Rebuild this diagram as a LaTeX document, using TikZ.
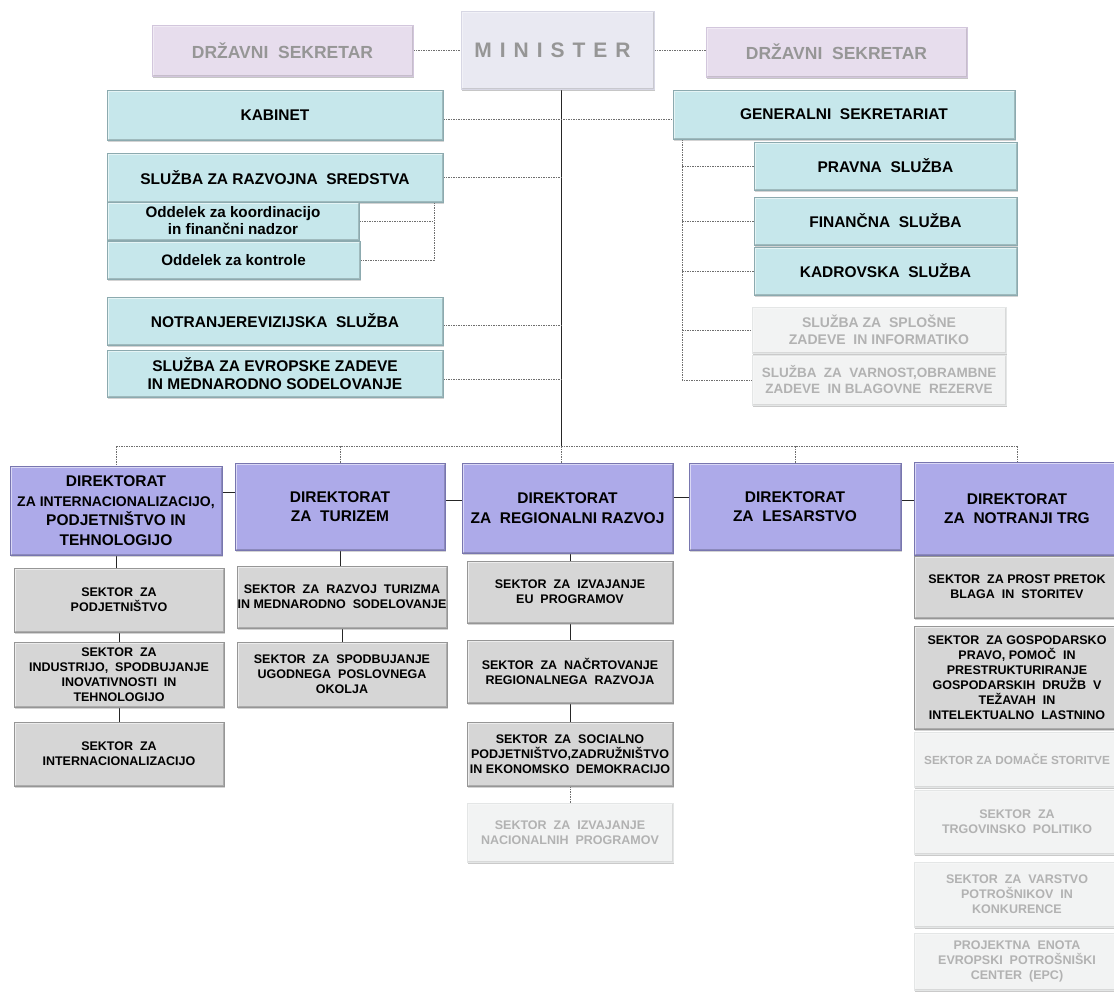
\documentclass[tikz,border=0pt]{standalone}
\usepackage{fontspec}
\setmainfont{Liberation Sans}
\usetikzlibrary{shadows}
\definecolor{cblue}{RGB}{198,231,235}
\definecolor{cblueD}{RGB}{140,170,175}
\definecolor{cpur}{RGB}{173,170,233}
\definecolor{cpurD}{RGB}{120,118,175}
\definecolor{cgray}{RGB}{214,214,214}
\definecolor{cgrayD}{RGB}{150,150,150}
\definecolor{cfade}{RGB}{242,243,243}
\definecolor{cfadeD}{RGB}{228,230,230}
\definecolor{cfadeT}{RGB}{178,178,178}
\definecolor{cds}{RGB}{231,221,237}
\definecolor{cdsD}{RGB}{210,198,220}
\definecolor{cmin}{RGB}{233,233,242}
\definecolor{cminD}{RGB}{215,215,228}
\definecolor{ctxtg}{RGB}{150,150,150}
\definecolor{lineg}{RGB}{110,110,110}
\pgfdeclarelayer{bg}
\pgfsetlayers{bg,main}
\begin{document}
\begin{tikzpicture}[x=1pt,y=-1pt,
  sz/.style 2 args={minimum width=#1pt, minimum height=#2pt},
  bevel/.style={path picture={
    \draw[white, opacity=#1, line width=3pt]
      (path picture bounding box.south west) -- (path picture bounding box.north west)
      -- (path picture bounding box.north east);
    \draw[black, opacity=#1*0.35, line width=3pt]
      (path picture bounding box.north east) -- (path picture bounding box.south east)
      -- (path picture bounding box.south west);}},
  base/.style={rectangle, inner sep=0pt, align=center, text=black, bevel=0.55,
    drop shadow={opacity=0.35, shadow xshift=1.2pt, shadow yshift=-1.8pt}},
  bluebox/.style={base, fill=cblue, draw=cblueD, line width=0.7pt,
    font=\bfseries\fontsize{15.5}{18}\selectfont},
  oddbox/.style={base, fill=cblue, draw=cblueD, line width=0.7pt,
    font=\bfseries\fontsize{15.2}{17}\selectfont},
  dirbox/.style={base, fill=cpur, draw=cpurD, line width=0.7pt,
    font=\bfseries\fontsize{15.5}{19.5}\selectfont},
  sekbox/.style={base, fill=cgray, draw=cgrayD, line width=0.7pt,
    font=\bfseries\fontsize{12.5}{15}\selectfont},
  fadebox/.style={base, fill=cfade, draw=cfadeD, line width=0.6pt, text=cfadeT, bevel=0.3,
    drop shadow={opacity=0.10, shadow xshift=1pt, shadow yshift=-1.5pt},
    font=\bfseries\fontsize{12.5}{15}\selectfont},
  dsbox/.style={base, fill=cds, draw=cdsD, line width=0.6pt, text=ctxtg, bevel=0.4,
    drop shadow={opacity=0.15, shadow xshift=1pt, shadow yshift=-1.5pt},
    font=\bfseries\fontsize{17.5}{20}\selectfont},
  minbox/.style={base, fill=cmin, draw=cminD, line width=0.6pt, text=ctxtg, bevel=0.4,
    drop shadow={opacity=0.15, shadow xshift=1pt, shadow yshift=-1.5pt},
    font=\bfseries\fontsize{21}{24}\selectfont},
  dl/.style={draw=lineg, line width=0.6pt, dash pattern=on 1.5pt off 1pt},
  sl/.style={draw=black!85, line width=0.9pt}
]
\useasboundingbox (0,0) rectangle (1114,993);
\clip (0,0) rectangle (1114,993);

% top row
\node[dsbox, sz={261}{51}] (ds1) at (282.5,50.5) {DRŽAVNI\ \ SEKRETAR};
\node[minbox, sz={193}{78}] (min) at (557.5,50) {\hspace{-10pt}M\kern8pt I\kern8pt N\kern8pt I\kern8pt S\kern8pt T\kern8pt E\kern8pt R};
\node[dsbox, sz={261}{50}] (ds2) at (836.5,52) {DRŽAVNI\ \ SEKRETAR};

% left services
\node[bluebox, sz={336}{50}] (kab) at (275,115) {KABINET};
\node[bluebox, sz={336}{49}] (razv) at (275,177.5) {SLUŽBA ZA RAZVOJNA\ \ SREDSTVA};
\node[oddbox, sz={252}{38}] (odd1) at (233,221) {Oddelek za koordinacijo\\in finančni nadzor};
\node[oddbox, sz={253}{38}] (odd2) at (233.5,260) {Oddelek za kontrole};
\node[bluebox, sz={336}{48}] (notr) at (275,321) {NOTRANJEREVIZIJSKA\ \ SLUŽBA};
\node[bluebox, sz={336}{47}] (evr) at (275,373.5) {SLUŽBA ZA EVROPSKE ZADEVE\\IN MEDNARODNO SODELOVANJE};

% right services
\node[bluebox, sz={342}{49}] (gs) at (844,114.5) {GENERALNI\ \ SEKRETARIAT};
\node[bluebox, sz={263}{48}] (prav) at (885.5,166) {PRAVNA\ \ SLUŽBA};
\node[bluebox, sz={263}{48}] (fin) at (885.5,221) {FINANČNA\ \ SLUŽBA};
\node[bluebox, sz={263}{48}] (kadr) at (885.5,271) {KADROVSKA\ \ SLUŽBA};
\node[fadebox, sz={254}{46}, font=\bfseries\fontsize{14}{16.5}\selectfont] (splo) at (879,330) {SLUŽBA ZA\ \ SPLOŠNE\\ZADEVE\ \ IN INFORMATIKO};
\node[fadebox, sz={254}{50}, font=\bfseries\fontsize{13.5}{16}\selectfont] (varn) at (879,380) {SLUŽBA\ \ ZA\ \ VARNOST,OBRAMBNE\\ZADEVE\ \ IN BLAGOVNE\ \ REZERVE};

% directorates
\node[dirbox, sz={212}{89}] (d1) at (116,510.5) {DIREKTORAT\\{\fontsize{14}{19.5}\selectfont ZA INTERNACIONALIZACIJO,}\\PODJETNIŠTVO IN\\TEHNOLOGIJO};
\node[dirbox, sz={210}{87}] (d2) at (340,506.5) {DIREKTORAT\\ZA\ \ TURIZEM};
\node[dirbox, sz={211}{90}] (d3) at (567.5,508) {DIREKTORAT\\ZA\ \ REGIONALNI RAZVOJ};
\node[dirbox, sz={212}{87}] (d4) at (795,506.5) {DIREKTORAT\\ZA\ \ LESARSTVO};
\node[dirbox, sz={206}{93}] (d5) at (1017,508.5) {DIREKTORAT\\ZA\ \ NOTRANJI TRG};

% sectors dir 1
\node[sekbox, sz={210}{64}] (s11) at (119,600) {SEKTOR\ \ ZA\\PODJETNIŠTVO};
\node[sekbox, sz={210}{65}] (s12) at (119,674.5) {SEKTOR\ \ ZA\\INDUSTRIJO,\ \ SPODBUJANJE\\INOVATIVNOSTI\ \ IN\\TEHNOLOGIJO};
\node[sekbox, sz={210}{64}] (s13) at (119,754) {SEKTOR\ \ ZA\\INTERNACIONALIZACIJO};
% sectors dir 2
\node[sekbox, sz={210}{62}] (s21) at (342,597) {SEKTOR\ \ ZA\ \ RAZVOJ\ \ TURIZMA\\IN MEDNARODNO\ \ SODELOVANJE};
\node[sekbox, sz={210}{65}] (s22) at (342,674.5) {SEKTOR\ \ ZA\ \ SPODBUJANJE\\UGODNEGA\ \ POSLOVNEGA\\OKOLJA};
% sectors dir 3
\node[sekbox, sz={206}{62}] (s31) at (570,592) {SEKTOR\ \ ZA\ \ IZVAJANJE\\EU\ \ PROGRAMOV};
\node[sekbox, sz={206}{63}] (s32) at (570,671.5) {SEKTOR\ \ ZA\ \ NAČRTOVANJE\\REGIONALNEGA\ \ RAZVOJA};
\node[sekbox, sz={206}{64}] (s33) at (570,754) {SEKTOR\ \ ZA\ \ SOCIALNO\\PODJETNIŠTVO,ZADRUŽNIŠTVO\\IN EKONOMSKO\ \ DEMOKRACIJO};
\node[fadebox, sz={206}{59}] (s34) at (570,832.5) {SEKTOR\ \ ZA\ \ IZVAJANJE\\NACIONALNIH\ \ PROGRAMOV};
% sectors dir 5
\node[sekbox, sz={206}{62}] (s51) at (1017,587) {SEKTOR\ \ ZA PROST PRETOK\\BLAGA\ \ IN\ \ STORITEV};
\node[sekbox, sz={206}{103}] (s52) at (1017,677.5) {SEKTOR\ \ ZA GOSPODARSKO\\PRAVO, POMOČ\ \ IN\\PRESTRUKTURIRANJE\\GOSPODARSKIH\ \ DRUŽB\ \ V\\TEŽAVAH\ \ IN\\INTELEKTUALNO\ \ LASTNINO};
\node[fadebox, sz={206}{55}, font=\bfseries\fontsize{11.8}{15}\selectfont] (s53) at (1017,759.5) {SEKTOR ZA DOMAČE STORITVE};
\node[fadebox, sz={206}{64}] (s54) at (1017,822) {SEKTOR\ \ ZA\\TRGOVINSKO\ \ POLITIKO};
\node[fadebox, sz={206}{65}] (s55) at (1017,894.5) {SEKTOR\ \ ZA\ \ VARSTVO\\POTROŠNIKOV\ \ IN\\KONKURENCE};
\node[fadebox, sz={206}{57}] (s56) at (1017,961.5) {PROJEKTNA\ \ ENOTA\\EVROPSKI\ \ POTROŠNIŠKI\\CENTER\ \ (EPC)};

\coordinate (hub) at (561,446);
\coordinate (obx) at (434,0);
\coordinate (gx) at (682,0);

\begin{pgfonlayer}{bg}
\draw[dl] (ds1.east) -- (ds1.east -| min.west);
\draw[dl] (min.east) -- (min.east -| ds2.west);
\draw[sl] (min.south -| hub) -- (hub);
\draw[dl] ([yshift=-4pt]kab.east) -- ([yshift=-4pt]kab.east -| gs.west);
\draw[dl] (razv.east) -- (razv.east -| hub);
\draw[dl] ([yshift=-4pt]notr.east) -- ([yshift=-4pt]notr.east -| hub);
\draw[dl] ([yshift=-6pt]evr.east) -- ([yshift=-6pt]evr.east -| hub);
\draw[dl] (razv.south -| obx) -- (odd2.east -| obx) -- (odd2.east);
\draw[dl] (odd1.east) -- (odd1.east -| obx);
\draw[dl] (gs.south -| gx) -- (varn.west -| gx) -- (varn.west);
\foreach \n in {prav,fin,kadr,splo} \draw[dl] (\n.west -| gx) -- (\n.west);
\draw[dl] (d1.north |- hub) -- (d5.north |- hub);
\foreach \n in {d1,d2,d4,d5} \draw[dl] (\n.north |- hub) -- (\n.north);
\draw[dl] (hub) -- (hub |- d3.north);
\draw[sl] ([yshift=18pt]d1.east) -- ([yshift=18pt]d1.east -| d2.west);
\draw[sl] ([yshift=6.5pt]d2.east) -- ([yshift=6.5pt]d2.east -| d3.west);
\draw[sl] ([yshift=11pt]d3.east) -- ([yshift=11pt]d3.east -| d4.west);
\draw[sl] ([yshift=6.5pt]d4.east) -- ([yshift=6.5pt]d4.east -| d5.west);
\draw[sl] (d1.south) -- (d1.south |- s11.north);
\draw[sl] (s11.south) -- (s12.north);
\draw[sl] (s12.south) -- (s13.north);
\draw[sl] (d2.south) -- (d2.south |- s21.north);
\draw[sl] (s21.south) -- (s22.north);
\draw[sl] (s31.north) -- (s31.north |- d3.south);
\draw[sl] (s31.south) -- (s32.north);
\draw[sl] (s32.south) -- (s33.north);
\draw[dl] (s33.south) -- (s34.north);
\end{pgfonlayer}
\end{tikzpicture}
\end{document}
